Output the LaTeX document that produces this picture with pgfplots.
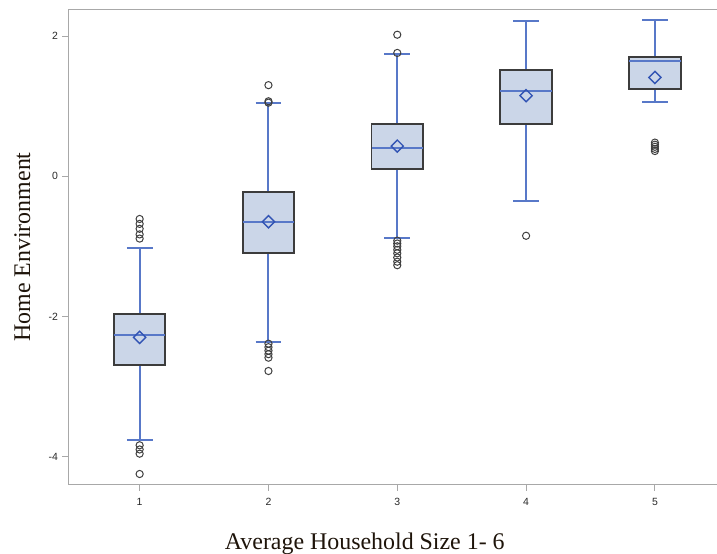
\documentclass[border=0pt]{standalone}
\usepackage{pgfplots}
\pgfplotsset{compat=1.18}
\usepgfplotslibrary{statistics}
\usepackage{fontspec}
\setmainfont{Liberation Serif}
\newfontfamily\arial{Liberation Sans}
\definecolor{boxfill}{RGB}{203,214,232}
\definecolor{boxedge}{RGB}{60,60,60}
\definecolor{whisk}{RGB}{88,120,200}
\definecolor{meanc}{RGB}{50,84,180}
\definecolor{outl}{RGB}{64,64,64}
\definecolor{axisgray}{RGB}{168,168,168}
\definecolor{ticktext}{RGB}{40,40,40}
\definecolor{labeltext}{RGB}{30,20,10}
\begin{document}
\begin{tikzpicture}
\begin{axis}[
  name=ax,
  scale only axis,
  width=648.6bp, height=475bp,
  xmin=0.447, xmax=5.482,
  ymin=-4.40, ymax=2.38,
  axis x line*=box, axis y line*=left,
  xtick={1,2,3,4,5}, ytick={-4,-2,0,2},
  xtick pos=left, ytick pos=left,
  tick align=outside,
  major tick length=6bp,
  tick style={draw=axisgray, line width=0.9bp},
  axis line style={draw=axisgray, line width=1.1bp},
  ticklabel style={font=\arial\fontsize{10.5}{12}\selectfont, text=ticktext},
  /pgf/number format/assume math mode=true,
  xticklabel style={yshift=-4bp},
  yticklabel style={xshift=-1bp},
  xlabel={Average Household Size 1- 6},
  ylabel={Home Environment},
  label style={font=\fontsize{24}{28}\selectfont, text=labeltext},
  xlabel style={at={(axis description cs:0.457,-0.1242)}, anchor=center},
  ylabel style={at={(axis description cs:-0.0709,0.5)}, anchor=center},
  boxplot/draw direction=y,
  boxplot/box extend=0.4,
  boxplot/whisker extend=0.2,
  boxplot/every box/.style={draw=boxedge, fill=boxfill, line width=1.9bp},
  boxplot/every whisker/.style={draw=whisk, line width=2bp},
  boxplot/every median/.style={draw=whisk, line width=2bp},
  boxplot/draw/average/.code={%
    \node[draw=meanc, line width=1.4bp, minimum size=8.6bp, inner sep=0pt, outer sep=0pt, rotate=45]
      at (boxplot box cs:\pgfplotsboxplotvalue{average},0.5) {};
  },
  outl mark/.style={color=outl, mark=o, mark size=3.6bp, mark options={line width=1bp, draw=outl}},
]
\addplot[boxplot prepared={draw position=1, lower whisker=-3.77, lower quartile=-2.70, median=-2.27, upper quartile=-1.97, upper whisker=-1.03, average=-2.30}, outl mark]
  table[row sep=\\, y index=0] {y\\ -0.61\\ -0.68\\ -0.75\\ -0.83\\ -0.89\\ -3.84\\ -3.90\\ -3.96\\ -4.25\\};
\addplot[boxplot prepared={draw position=2, lower whisker=-2.37, lower quartile=-1.09, median=-0.66, upper quartile=-0.23, upper whisker=1.04, average=-0.65}, outl mark]
  table[row sep=\\, y index=0] {y\\ 1.30\\ 1.05\\ 1.07\\ -2.39\\ -2.44\\ -2.49\\ -2.54\\ -2.59\\ -2.78\\};
\addplot[boxplot prepared={draw position=3, lower whisker=-0.88, lower quartile=0.10, median=0.41, upper quartile=0.75, upper whisker=1.74, average=0.43}, outl mark]
  table[row sep=\\, y index=0] {y\\ 2.02\\ 1.76\\ -0.92\\ -0.96\\ -1.00\\ -1.05\\ -1.10\\ -1.16\\ -1.22\\ -1.27\\};
\addplot[boxplot prepared={draw position=4, lower whisker=-0.36, lower quartile=0.74, median=1.21, upper quartile=1.52, upper whisker=2.22, average=1.15}, outl mark]
  table[row sep=\\, y index=0] {y\\ -0.85\\};
\addplot[boxplot prepared={draw position=5, lower whisker=1.06, lower quartile=1.25, median=1.65, upper quartile=1.70, upper whisker=2.23, average=1.41}, outl mark]
  table[row sep=\\, y index=0] {y\\ 0.48\\ 0.45\\ 0.42\\ 0.39\\ 0.36\\};
\end{axis}
\pgfresetboundingbox
\path[use as bounding box] ([xshift=-68.4bp,yshift=-69.5bp]ax.south west) rectangle ([yshift=9.5bp]ax.north east);
\end{tikzpicture}
\end{document}
